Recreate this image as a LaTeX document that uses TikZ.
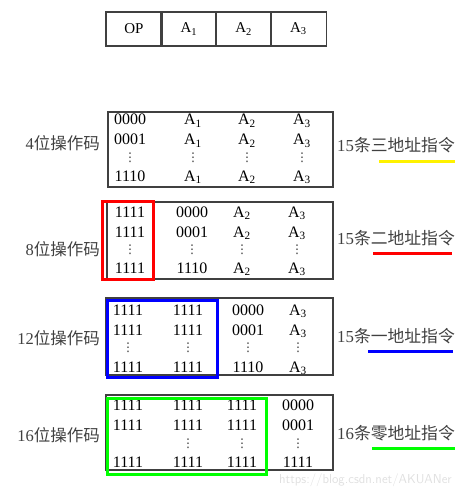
\documentclass[tikz,border=0pt]{standalone}
\usepackage{fontspec}
\setmainfont{Liberation Serif}
\newfontfamily\cjk{Noto Sans CJK SC}
\newfontfamily\symb{DejaVu Sans}
\usetikzlibrary{positioning}
\begin{document}
\begin{tikzpicture}[x=1pt,y=-1pt,
  frame/.style={draw=black!75,line width=1.2pt},
  fmt/.style={draw=black!75,line width=1.2pt,minimum width=56pt,minimum height=34pt,
    inner sep=0pt,outer sep=0pt,font=\fontsize{15}{15}\selectfont},
  cell/.style={inner sep=0pt,text height=11pt,text depth=1pt,font=\fontsize{16}{16}\selectfont},
  vd/.style={inner sep=0pt,text=black!80,font=\symb\fontsize{12}{12}\selectfont},
  lbl/.style={anchor=east,inner sep=0pt,text=black!75,font=\fontsize{16.5}{17}\selectfont},
  rlbl/.style={anchor=west,inner sep=0pt,text=black!75,font=\fontsize{16.8}{17}\selectfont},
  hilite/.style={line width=3pt}]
\useasboundingbox (0,0) rectangle (456,497);

% instruction format
\node[fmt] (op) at (134,29) {OP};
\node[fmt,right=-1.2pt of op] (fa1) {A\textsubscript{1}};
\node[fmt,right=-1.2pt of fa1] (fa2) {A\textsubscript{2}};
\node[fmt,right=-1.2pt of fa2] (fa3) {A\textsubscript{3}};

% 4 bit opcode
\draw[frame] (108,112) rectangle (333,187);
\foreach \x/\t [count=\i] in {130/0000,193/A\textsubscript{1},247/A\textsubscript{2},302/A\textsubscript{3}}
  \node[cell] (p1\i) at (\x,120) {\t};
\foreach \x/\t [count=\i] in {130/0001,193/A\textsubscript{1},247/A\textsubscript{2},302/A\textsubscript{3}}
  \node[cell] (q1\i) at (\x,140) {\t};
\foreach \x [count=\i] in {130,193,247,302}
  \node[vd] (d1\i) at (\x,158) {⋮};
\foreach \x/\t [count=\i] in {130/1110,193/A\textsubscript{1},247/A\textsubscript{2},302/A\textsubscript{3}}
  \node[cell] (r1\i) at (\x,176) {\t};

% 8 bit opcode
\draw[frame] (107,202) rectangle (333,279);
\foreach \x/\t [count=\i] in {130/1111,192/0000,242/A\textsubscript{2},297/A\textsubscript{3}}
  \node[cell] (p2\i) at (\x,212) {\t};
\foreach \x/\t [count=\i] in {130/1111,192/0001,242/A\textsubscript{2},297/A\textsubscript{3}}
  \node[cell] (q2\i) at (\x,232) {\t};
\foreach \x [count=\i] in {130,192,242,297}
  \node[vd] (d2\i) at (\x,250) {⋮};
\foreach \x/\t [count=\i] in {130/1111,192/1110,242/A\textsubscript{2},297/A\textsubscript{3}}
  \node[cell] (r2\i) at (\x,268) {\t};
\draw[hilite,red] (102,201) rectangle (153,279);

% 12 bit opcode
\draw[frame] (106,298) rectangle (333,375);
\foreach \x/\t [count=\i] in {128/1111,188/1111,248/0000,298/A\textsubscript{3}}
  \node[cell] (p3\i) at (\x,310) {\t};
\foreach \x/\t [count=\i] in {128/1111,188/1111,248/0001,298/A\textsubscript{3}}
  \node[cell] (q3\i) at (\x,330) {\t};
\foreach \x [count=\i] in {128,188,248,298}
  \node[vd] (d3\i) at (\x,348) {⋮};
\foreach \x/\t [count=\i] in {128/1111,188/1111,248/1110,298/A\textsubscript{3}}
  \node[cell] (r3\i) at (\x,367) {\t};
\draw[hilite,blue] (107,300) rectangle (217,377);

% 16 bit opcode
\draw[frame] (106,395) rectangle (333,470);
\foreach \x/\t [count=\i] in {128/1111,188/1111,242/1111,298/0000}
  \node[cell] (p4\i) at (\x,405) {\t};
\foreach \x/\t [count=\i] in {128/1111,188/1111,242/1111,298/0001}
  \node[cell] (q4\i) at (\x,425) {\t};
\foreach \x [count=\i] in {188,242,298}
  \node[vd] (d4\i) at (\x,444) {⋮};
\foreach \x/\t [count=\i] in {128/1111,188/1111,242/1111,298/1111}
  \node[cell] (r4\i) at (\x,462) {\t};
\draw[hilite,green] (107,398) rectangle (266,474);

% left labels
\node[lbl] (l1) at (100,143) {4\cjk 位操作码};
\node[lbl] (l2) at (100,249) {8\cjk 位操作码};
\node[lbl] (l3) at (100,338) {12\cjk 位操作码};
\node[lbl] (l4) at (100,435) {16\cjk 位操作码};

% right labels
\node[rlbl] (n1) at (337,145) {15\cjk 条三地址指令};
\node[rlbl] (n2) at (337,238) {15\cjk 条二地址指令};
\node[rlbl] (n3) at (337,336) {15\cjk 条一地址指令};
\node[rlbl] (n4) at (337,433) {16\cjk 条零地址指令};
\draw[hilite,yellow] (379,161) -- (455,161);
\draw[hilite,red] (373,253) -- (452,253);
\draw[hilite,blue] (368,351) -- (453,351);
\draw[hilite,green] (372,448) -- (455,448);

\node[anchor=east,inner sep=0pt,text=black!12,font=\sffamily\fontsize{13}{13}\selectfont] (wm) at (452,480) {https://blog.csdn.net/AKUANer};
\end{tikzpicture}
\end{document}
